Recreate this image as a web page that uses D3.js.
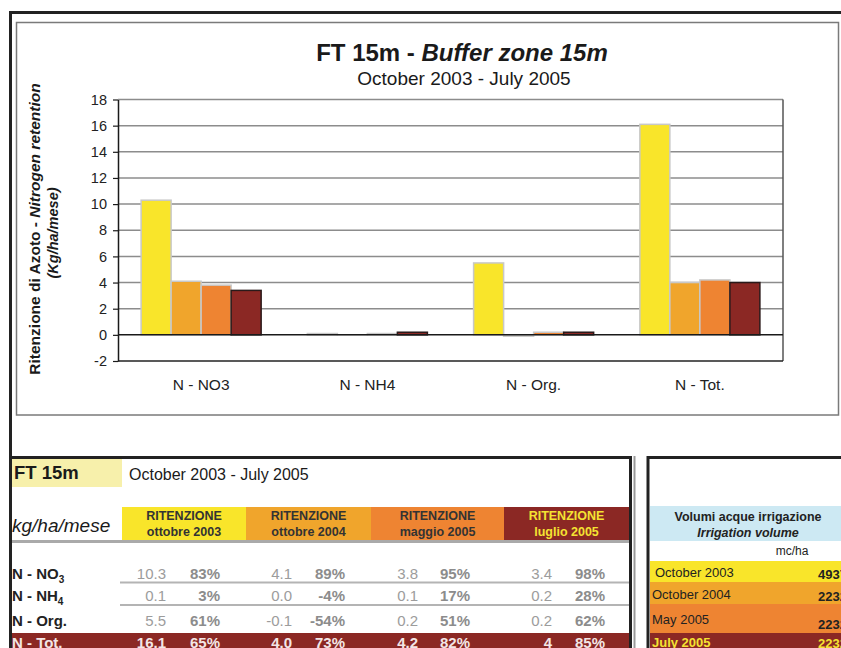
<!DOCTYPE html>
<html>
<head>
<meta charset="utf-8">
<script src="https://cdn.jsdelivr.net/npm/d3@7/dist/d3.min.js"></script>
<style>
  html, body { margin: 0; padding: 0; background: #fff; }
  svg { display: block; }
  text { font-family: "Liberation Sans", Arial, sans-serif; }
</style>
</head>
<body>
<svg id="chart" width="841" height="648"></svg>
<script>
// ---- data ----
const categories = ["N - NO3", "N - NH4", "N - Org.", "N - Tot."];
const rowLabels = [["N - NO", "3"], ["N - NH", "4"], ["N - Org.", ""], ["N - Tot.", ""]];
const periods = ["ottobre 2003", "ottobre 2004", "maggio 2005", "luglio 2005"];
// retention (kg/ha/month) per period, one entry per category
const retention2003oct = ["10.3", "0.1", "5.5", "16.1"];
const retention2004oct = ["4.1", "0.0", "-0.1", "4.0"];
const retention2005may = ["3.8", "0.1", "0.2", "4.2"];
const retention2005jul = ["3.4", "0.2", "0.2", "4"];
// retention efficiency (%) per period, one entry per category
const pct2003oct = [83, 3, 61, 65];
const pct2004oct = [89, -4, -54, 73];
const pct2005may = [95, 17, 51, 82];
const pct2005jul = [98, 28, 62, 85];
const yTicks = [-2, 0, 2, 4, 6, 8, 10, 12, 14, 16, 18];
const irrigationMonths = ["October 2003", "October 2004", "May 2005", "July 2005"];
const irrigationVolume = [4937, 2232, 2232, 2232];

const seriesValues = [retention2003oct, retention2004oct, retention2005may, retention2005jul];
const seriesPct = [pct2003oct, pct2004oct, pct2005may, pct2005jul];

// ---- styles ----
const fills = ["#f9e52a", "#f0a52c", "#ee8432", "#8b2824"];
const strokes = ["#c8c8c8", "#c8c8c8", "#c8c8c8", "#2a1a1a"];
const headerText = ["#333", "#333", "#333", "#f5e332"];
const bandText = ["#222", "#222", "#222", "#f5e332"];

const svg = d3.select("#chart");
svg.append("rect").attr("width", 841).attr("height", 648).attr("fill", "#fff");

// ---- outer frame and chart box ----
svg.append("path").attr("d", "M10.5,648 V12.5 H841").attr("fill", "none")
  .attr("stroke", "#222").attr("stroke-width", 3);
svg.append("rect").attr("x", 16.5).attr("y", 22.5).attr("width", 822).attr("height", 392.5)
  .attr("fill", "#fff").attr("stroke", "#7a7a7a").attr("stroke-width", 1.5);

// ---- titles ----
const title = svg.append("text").attr("x", 462).attr("y", 61).attr("text-anchor", "middle")
  .attr("font-size", 24).attr("font-weight", "bold").attr("fill", "#1a1a1a");
title.append("tspan").text("FT 15m - ");
title.append("tspan").attr("font-style", "italic").text("Buffer zone 15m");
svg.append("text").attr("x", 464).attr("y", 85).attr("text-anchor", "middle")
  .attr("font-size", 19).attr("fill", "#1a1a1a").text("October 2003 - July 2005");

// ---- scales ----
const plot = { left: 118, right: 783, top: 99.5, bottom: 361 };
const y = d3.scaleLinear().domain([-2, 18]).range([plot.bottom, plot.top]);
const x0 = d3.scaleBand().domain(categories).range([plot.left, plot.right])
  .paddingInner(0.278).paddingOuter(0.139);
const x1 = d3.scaleBand().domain(periods).range([0, x0.bandwidth()]);

// gridlines
svg.append("g").selectAll("line").data(yTicks.filter(t => t > 0)).join("line")
  .attr("x1", plot.left).attr("x2", plot.right)
  .attr("y1", d => y(d)).attr("y2", d => y(d))
  .attr("stroke", "#8c8c8c").attr("stroke-width", 1.5);

// plot area right and bottom borders
svg.append("line").attr("x1", plot.right).attr("x2", plot.right)
  .attr("y1", y(18)).attr("y2", y(-2)).attr("stroke", "#555").attr("stroke-width", 1.5);
svg.append("line").attr("x1", plot.left).attr("x2", plot.right)
  .attr("y1", y(-2)).attr("y2", y(-2)).attr("stroke", "#222").attr("stroke-width", 1.5);

// bars
const groups = svg.append("g").selectAll("g").data(categories).join("g")
  .attr("transform", d => `translate(${x0(d)},0)`);
groups.selectAll("rect")
  .data((c, ci) => periods.map((p, pi) => ({ p, pi, v: +seriesValues[pi][ci] })))
  .join("rect")
  .attr("x", d => x1(d.p))
  .attr("width", x1.bandwidth())
  .attr("y", d => y(Math.max(0, d.v)))
  .attr("height", d => Math.max(Math.abs(y(d.v) - y(0)), 0.01))
  .attr("fill", d => fills[d.pi])
  .attr("stroke", d => strokes[d.pi])
  .attr("stroke-width", 1.5);

// zero line
svg.append("line").attr("x1", plot.left).attr("x2", plot.right)
  .attr("y1", y(0)).attr("y2", y(0)).attr("stroke", "#1a1a1a").attr("stroke-width", 1.5);

// y axis
const yAxis = svg.append("g").attr("transform", `translate(${plot.left},0)`)
  .call(d3.axisLeft(y).tickValues(yTicks).tickFormat(d => String(d))
    .tickSize(5).tickSizeOuter(0).tickPadding(6));
yAxis.select(".domain").attr("stroke", "#1a1a1a").attr("stroke-width", 1.5);
yAxis.selectAll(".tick line").attr("stroke", "#1a1a1a").attr("stroke-width", 1.2);
yAxis.selectAll(".tick text").attr("font-size", 14.5).attr("fill", "#222")
  .attr("font-family", "Liberation Sans, Arial, sans-serif");

// category labels
svg.append("g").selectAll("text").data(categories).join("text")
  .attr("x", d => x0(d) + x0.bandwidth() / 2).attr("y", 390)
  .attr("text-anchor", "middle").attr("font-size", 15.5).attr("fill", "#222")
  .text(d => d);

// y axis title
const yt = svg.append("g").attr("transform", "translate(0,229) rotate(-90)");
const yt1 = yt.append("text").attr("x", 0).attr("y", 40).attr("text-anchor", "middle")
  .attr("font-size", 15.5).attr("font-weight", "bold").attr("fill", "#1a1a1a");
yt1.append("tspan").text("Ritenzione di Azoto - ");
yt1.append("tspan").attr("font-style", "italic").text("Nitrogen retention");
yt.append("text").attr("x", -4).attr("y", 58).attr("text-anchor", "middle")
  .attr("font-size", 14.5).attr("font-weight", "bold").attr("font-style", "italic")
  .attr("fill", "#1a1a1a").text("(Kg/ha/mese)");

// ---- retention table ----
svg.append("line").attr("x1", 9).attr("x2", 632).attr("y1", 457.5).attr("y2", 457.5)
  .attr("stroke", "#222").attr("stroke-width", 3);
svg.append("line").attr("x1", 630.5).attr("x2", 630.5).attr("y1", 456).attr("y2", 648)
  .attr("stroke", "#222").attr("stroke-width", 3);
svg.append("line").attr("x1", 634.5).attr("x2", 634.5).attr("y1", 456).attr("y2", 648)
  .attr("stroke", "#9a9a9a").attr("stroke-width", 2);

svg.append("rect").attr("x", 12).attr("y", 459).attr("width", 110).attr("height", 28)
  .attr("fill", "#f7f0ab");
svg.append("text").attr("x", 14).attr("y", 479).attr("font-size", 18.5).attr("font-weight", "bold")
  .attr("fill", "#1a1a1a").text("FT 15m");
svg.append("text").attr("x", 129).attr("y", 480).attr("font-size", 16).attr("fill", "#1a1a1a")
  .text("October 2003 - July 2005");
svg.append("text").attr("x", 12).attr("y", 532).attr("font-size", 19).attr("font-style", "italic")
  .attr("fill", "#1a1a1a").text("kg/ha/mese");

const headerX = [122, 246, 371, 504, 629];
const head = svg.append("g").selectAll("g").data(periods).join("g");
head.append("rect")
  .attr("x", (d, i) => headerX[i]).attr("y", 507)
  .attr("width", (d, i) => headerX[i + 1] - headerX[i]).attr("height", 33)
  .attr("fill", (d, i) => fills[i]);
head.append("text")
  .attr("x", (d, i) => (headerX[i] + headerX[i + 1]) / 2).attr("y", 520)
  .attr("text-anchor", "middle").attr("font-size", 12.5).attr("font-weight", "bold")
  .attr("fill", (d, i) => headerText[i]).text("RITENZIONE");
head.append("text")
  .attr("x", (d, i) => (headerX[i] + headerX[i + 1]) / 2).attr("y", 536)
  .attr("text-anchor", "middle").attr("font-size", 12.5).attr("font-weight", "bold")
  .attr("fill", (d, i) => headerText[i]).text(d => d);
svg.append("line").attr("x1", 12).attr("x2", 629).attr("y1", 541.5).attr("y2", 541.5)
  .attr("stroke", "#aaa").attr("stroke-width", 3);

// total row band
svg.append("rect").attr("x", 12).attr("y", 633).attr("width", 617).attr("height", 20)
  .attr("fill", "#8b2824");

// row separators
[582.5, 605].forEach(yy => svg.append("line").attr("x1", 120).attr("x2", 629)
  .attr("y1", yy).attr("y2", yy).attr("stroke", "#b4b4b4").attr("stroke-width", 2));

const rowY = [579, 601, 626, 648];
const valRight = [166, 292, 418, 552];
const pctRight = [220, 345, 470, 605];
const rows = svg.append("g").selectAll("g").data(categories).join("g");
rows.each(function (c, ri) {
  const g = d3.select(this);
  const isTot = ri === 3;
  const lab = g.append("text").attr("x", 12).attr("y", rowY[ri]).attr("font-size", 15)
    .attr("font-weight", "bold").attr("fill", isTot ? "#f3e6e6" : "#222");
  lab.append("tspan").text(rowLabels[ri][0]);
  if (rowLabels[ri][1]) lab.append("tspan").attr("font-size", 10).attr("dy", 4).text(rowLabels[ri][1]);
  periods.forEach((p, pi) => {
    g.append("text").attr("x", valRight[pi]).attr("y", rowY[ri]).attr("text-anchor", "end")
      .attr("font-size", 15).attr("font-weight", isTot ? "bold" : "normal")
      .attr("fill", isTot ? "#f3e6e6" : "#9c9c9c").text(seriesValues[pi][ri]);
    g.append("text").attr("x", pctRight[pi]).attr("y", rowY[ri]).attr("text-anchor", "end")
      .attr("font-size", 15).attr("font-weight", "bold")
      .attr("fill", isTot ? "#f3e6e6" : "#8c8c8c").text(seriesPct[pi][ri] + "%");
  });
});

// ---- irrigation table ----
svg.append("path").attr("d", "M648,648 V457.5 H841").attr("fill", "none")
  .attr("stroke", "#222").attr("stroke-width", 3);
svg.append("rect").attr("x", 650).attr("y", 506).attr("width", 191).attr("height", 35)
  .attr("fill", "#cde9f3");
svg.append("text").attr("x", 748).attr("y", 521).attr("text-anchor", "middle")
  .attr("font-size", 12.5).attr("font-weight", "bold").attr("fill", "#222")
  .text("Volumi acque irrigazione");
svg.append("text").attr("x", 748).attr("y", 537).attr("text-anchor", "middle")
  .attr("font-size", 12.5).attr("font-weight", "bold").attr("font-style", "italic")
  .attr("fill", "#222").text("Irrigation volume");
svg.append("text").attr("x", 792).attr("y", 555).attr("text-anchor", "middle")
  .attr("font-size", 12).attr("fill", "#222").text("mc/ha");

const bandY = [561, 582, 604, 633, 653];
const labY = [577, 599, 624, 647];
const volY = [579, 601, 629, 648];
const irr = svg.append("g").selectAll("g").data(irrigationMonths).join("g");
irr.append("rect").attr("x", 650).attr("y", (d, i) => bandY[i])
  .attr("width", 191).attr("height", (d, i) => bandY[i + 1] - bandY[i])
  .attr("fill", (d, i) => fills[i]);
irr.append("text").attr("x", (d, i) => i === 0 ? 655 : 652).attr("y", (d, i) => labY[i])
  .attr("font-size", 13).attr("font-weight", (d, i) => i === 3 ? "bold" : "normal")
  .attr("fill", (d, i) => bandText[i]).text(d => d);
irr.append("text").attr("x", 818).attr("y", (d, i) => volY[i])
  .attr("font-size", 13).attr("font-weight", "bold")
  .attr("fill", (d, i) => bandText[i]).text((d, i) => irrigationVolume[i]);
</script>
</body>
</html>
